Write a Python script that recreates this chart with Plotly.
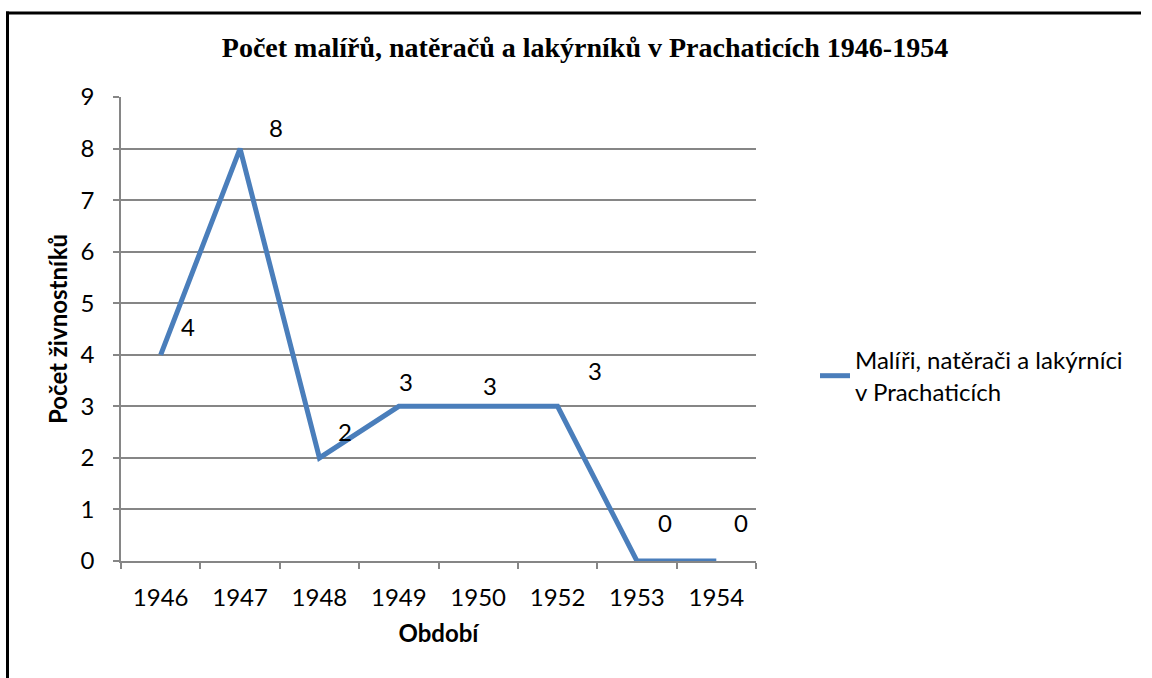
import plotly.graph_objects as go

years = ["1946", "1947", "1948", "1949", "1950", "1952", "1953", "1954"]
counts = [4, 8, 2, 3, 3, 3, 0, 0]
series_name = "Malíři, natěrači a lakýrníci<br>v Prachaticích"
title_text = "Počet malířů, natěračů a lakýrníků v Prachaticích 1946-1954"
x_title = "Období"
y_title = "Počet živnostníků"
y_ticks = list(range(0, 10))

# label offsets in pixels (manually placed labels in the original)
label_dx = [27, 36, 26, 7, 12, 37, 28, 25]
label_dy = [28, 21, 26, 25, 21, 36, 39, 39]

W, H = 1152, 678
L, R, T, B = 121, 756, 97, 561
FONT = "Lato, Calibri, sans-serif"
GRAY = "#868686"
BLUE = "#4a7ebb"
FS = 24

fig = go.Figure()
fig.add_trace(go.Scatter(
    x=years, y=counts, mode="lines", name=series_name,
    line=dict(color=BLUE, width=5),
))

for i, (y, dx, dy) in enumerate(zip(counts, label_dx, label_dy)):
    fig.add_annotation(x=i, y=y, xref="x", yref="y", text=str(y),
                       showarrow=False, xshift=dx, yshift=dy,
                       font=dict(family=FONT, size=FS, color="#000000"))

def px_x(p):
    return (p - L) / (R - L)

def px_y(p):
    return (B - p) / (B - T)

# outer chart frame (top and left edges visible)
fig.add_shape(type="line", xref="paper", yref="paper",
              x0=px_x(6), x1=px_x(1141), y0=px_y(13), y1=px_y(13),
              line=dict(color="#000000", width=3), layer="below")
fig.add_shape(type="line", xref="paper", yref="paper",
              x0=px_x(7.5), x1=px_x(7.5), y0=px_y(11.5), y1=px_y(678),
              line=dict(color="#000000", width=3), layer="below")

fig.update_layout(
    width=W, height=H,
    margin=dict(l=L, r=W - R, t=T, b=H - B),
    paper_bgcolor="white", plot_bgcolor="white",
    title=dict(text=title_text, x=px_x(585), xref="paper", xanchor="center",
               y=1 - 47 / H, yanchor="middle",
               font=dict(family="Liberation Serif, Times New Roman, serif",
                         size=28, color="#000000", weight="bold")),
    showlegend=True,
    legend=dict(x=px_x(815), xanchor="left", y=px_y(338), yanchor="top",
                font=dict(family=FONT, size=FS, color="#000000"),
                bgcolor="rgba(0,0,0,0)", itemwidth=30),
    xaxis=dict(
        type="category", range=[-0.5, len(years) - 0.5],
        tickson="boundaries", ticks="outside", ticklen=6, tickcolor=GRAY,
        tickwidth=1.5, showline=True, linecolor=GRAY, linewidth=1.5,
        showgrid=False, tickfont=dict(family=FONT, size=FS, color="#000000"),
        ticklabelstandoff=14,
        title=dict(text="<b>" + x_title + "</b>", standoff=16,
                   font=dict(family=FONT, size=FS, color="#000000")),
    ),
    yaxis=dict(
        range=[0, 9], tickvals=y_ticks, ticks="outside", ticklen=6,
        tickcolor=GRAY, tickwidth=1.5, showline=True, linecolor=GRAY,
        linewidth=1.5, showgrid=True, gridcolor=GRAY, gridwidth=1.5,
        zeroline=False, tickfont=dict(family=FONT, size=FS, color="#000000"),
        ticklabelstandoff=14,
        title=dict(text="<b>" + y_title + "</b>", standoff=6,
                   font=dict(family=FONT, size=FS, color="#000000")),
    ),
)

fig.write_html("out.html", config={"displayModeBar": False},
               post_script="document.body.style.margin='0';"
                           "document.body.style.overflow='hidden';")
